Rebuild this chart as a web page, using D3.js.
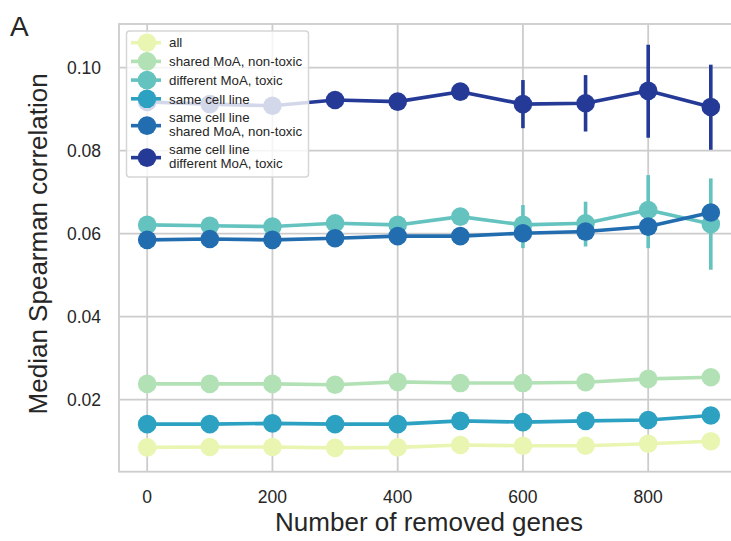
<!DOCTYPE html>
<html>
<head>
<meta charset="utf-8">
<script src="https://cdn.jsdelivr.net/npm/d3@7"></script>
<style>
  body { margin: 0; background: #fff; }
  text { font-family: "Liberation Sans", Arial, sans-serif; fill: #262626; }
</style>
</head>
<body>
<div id="chart"></div>
<script>
// median spearman correlation vs number of removed genes

const genes = [0, 100, 200, 300, 400, 500, 600, 700, 800, 900];
const xTicks = [0, 200, 400, 600, 800];
const yTicks = [0.02, 0.04, 0.06, 0.08, 0.10];

const seriesNames = [
  "all",
  "shared MoA, non-toxic",
  "different MoA, toxic",
  "same cell line",
  "same cell line\nshared MoA, non-toxic",
  "same cell line\ndifferent MoA, toxic"
];
const palette = ["#e8f6b1", "#b2e1b6", "#64c3bf", "#2ca1c2", "#216daf", "#253a97"];

const allVals        = [0.0085, 0.0086, 0.0086, 0.0084, 0.0085, 0.0091, 0.0089, 0.0089, 0.0094, 0.0100];
const sharedVals     = [0.0238, 0.0238, 0.0238, 0.0236, 0.0243, 0.0240, 0.0240, 0.0242, 0.0250, 0.0254];
const differentVals  = [0.0621, 0.0619, 0.0617, 0.0625, 0.0621, 0.0641, 0.0621, 0.0625, 0.0657, 0.0623];
const sameVals       = [0.0141, 0.0141, 0.0143, 0.0141, 0.0141, 0.0149, 0.0146, 0.0149, 0.0151, 0.0162];
const sameSharedVals = [0.0585, 0.0587, 0.0585, 0.0589, 0.0594, 0.0594, 0.0601, 0.0605, 0.0617, 0.0651];
const sameDiffVals   = [0.0917, 0.0912, 0.0908, 0.0922, 0.0918, 0.0942, 0.0912, 0.0914, 0.0944, 0.0905];

// confidence intervals (only the visible ones)
const differentLo  = [0.0614, 0.0612, 0.0610, 0.0617, 0.0614, 0.0632, 0.0565, 0.0569, 0.0565, 0.0513];
const differentHi  = [0.0628, 0.0626, 0.0624, 0.0633, 0.0628, 0.0650, 0.0669, 0.0677, 0.0741, 0.0733];
const sameSharedLo = [0.0581, 0.0583, 0.0581, 0.0585, 0.0590, 0.0590, 0.0596, 0.0600, 0.0610, 0.0641];
const sameSharedHi = [0.0589, 0.0591, 0.0589, 0.0593, 0.0598, 0.0598, 0.0606, 0.0610, 0.0624, 0.0661];
const sameDiffLo   = [0.0905, 0.0902, 0.0898, 0.0912, 0.0908, 0.0930, 0.0854, 0.0846, 0.0831, 0.0802];
const sameDiffHi   = [0.0929, 0.0922, 0.0918, 0.0932, 0.0928, 0.0954, 0.0970, 0.0982, 0.1055, 0.1007];

const seriesVals = [allVals, sharedVals, differentVals, sameVals, sameSharedVals, sameDiffVals];
const seriesLo = [null, null, differentLo, null, sameSharedLo, sameDiffLo];
const seriesHi = [null, null, differentHi, null, sameSharedHi, sameDiffHi];

const width = 731, height = 541;
const plot = {left: 119, right: 739, top: 24, bottom: 471.7};
const grey = "#cccccc";
const r = 9.3;

const x = d3.scaleLinear().domain([-45, 945]).range([plot.left, plot.right]);
const y = d3.scaleLinear().domain([0.00265, 0.1105]).range([plot.bottom, plot.top]);

const svg = d3.select("#chart").append("svg")
  .attr("width", width)
  .attr("height", height);

// grid
svg.append("g")
  .selectAll("line")
  .data(xTicks)
  .join("line")
    .attr("x1", d => x(d)).attr("x2", d => x(d))
    .attr("y1", plot.top).attr("y2", plot.bottom)
    .attr("stroke", grey).attr("stroke-width", 1.8);

svg.append("g")
  .selectAll("line")
  .data(yTicks)
  .join("line")
    .attr("x1", plot.left).attr("x2", plot.right)
    .attr("y1", d => y(d)).attr("y2", d => y(d))
    .attr("stroke", grey).attr("stroke-width", 1.8);

// spines
svg.append("rect")
  .attr("x", plot.left).attr("y", plot.top)
  .attr("width", plot.right - plot.left)
  .attr("height", plot.bottom - plot.top)
  .attr("fill", "none")
  .attr("stroke", grey).attr("stroke-width", 1.8);

// tick labels
svg.append("g")
  .selectAll("text")
  .data(xTicks)
  .join("text")
    .attr("x", d => x(d))
    .attr("y", 502.5)
    .attr("text-anchor", "middle")
    .attr("font-size", 17.5)
    .text(d => d);

svg.append("g")
  .selectAll("text")
  .data(yTicks)
  .join("text")
    .attr("x", 101)
    .attr("y", d => y(d))
    .attr("dy", "0.36em")
    .attr("text-anchor", "end")
    .attr("font-size", 17.5)
    .text(d => d3.format(".2f")(d));

// axis titles
svg.append("text")
  .attr("x", (plot.left + plot.right) / 2)
  .attr("y", 531)
  .attr("text-anchor", "middle")
  .attr("font-size", 26)
  .text("Number of removed genes");

svg.append("text")
  .attr("transform", `translate(47,${(plot.top + plot.bottom) / 2 - 4}) rotate(-90)`)
  .attr("text-anchor", "middle")
  .attr("font-size", 26)
  .text("Median Spearman correlation");

svg.append("text")
  .attr("x", 10).attr("y", 36)
  .attr("font-size", 28)
  .text("A");

// series
const line = d3.line()
  .x((d, i) => x(genes[i]))
  .y(d => y(d));

seriesVals.forEach((vals, s) => {
  const g = svg.append("g");
  if (seriesLo[s]) {
    g.selectAll("line.err")
      .data(genes)
      .join("line")
        .attr("class", "err")
        .attr("x1", d => x(d)).attr("x2", d => x(d))
        .attr("y1", (d, i) => y(seriesLo[s][i]))
        .attr("y2", (d, i) => y(seriesHi[s][i]))
        .attr("stroke", palette[s])
        .attr("stroke-width", 3.6);
  }
  g.append("path")
    .datum(vals)
    .attr("fill", "none")
    .attr("stroke", palette[s])
    .attr("stroke-width", 3.6)
    .attr("stroke-linejoin", "round")
    .attr("d", line);
  g.selectAll("circle")
    .data(vals)
    .join("circle")
      .attr("cx", (d, i) => x(genes[i]))
      .attr("cy", d => y(d))
      .attr("r", r)
      .attr("fill", palette[s]);
});

// legend
const legend = svg.append("g");
legend.append("rect")
  .attr("x", 126.5).attr("y", 31)
  .attr("width", 182).attr("height", 146)
  .attr("rx", 3)
  .attr("fill", "#fff").attr("fill-opacity", 0.8)
  .attr("stroke", "#d6d6d6").attr("stroke-width", 1.5);

let ly = 42.7;
seriesNames.forEach((name, s) => {
  const lines = name.split("\n");
  const mid = ly + (lines.length - 1) * 13.3 / 2 + (lines.length > 1 ? 1.5 : 0);
  legend.append("line")
    .attr("x1", 131).attr("x2", 161)
    .attr("y1", mid).attr("y2", mid)
    .attr("stroke", palette[s]).attr("stroke-width", 3.6);
  legend.append("circle")
    .attr("cx", 147).attr("cy", mid)
    .attr("r", r)
    .attr("fill", palette[s]);
  const t = legend.append("text")
    .attr("x", 169)
    .attr("y", ly)
    .attr("font-size", 13.3);
  lines.forEach((l, k) => {
    t.append("tspan")
      .attr("x", 169)
      .attr("y", ly + k * 13.3)
      .attr("dy", "0.36em")
      .text(l);
  });
  ly += 18.7 + (lines.length - 1) * 13.3;
});
</script>
</body>
</html>
